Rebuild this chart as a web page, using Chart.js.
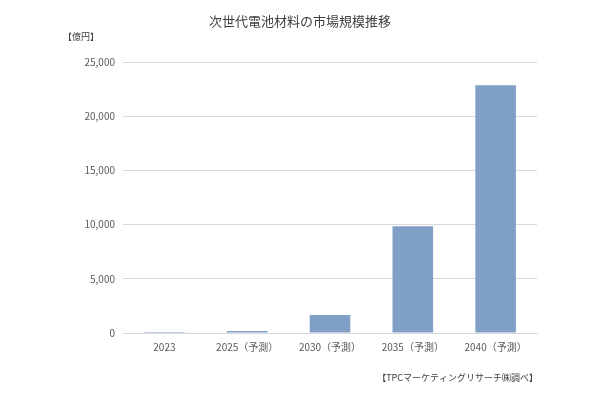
<!DOCTYPE html>
<html lang="ja">
<head>
<meta charset="UTF-8">
<title>次世代電池材料の市場規模推移</title>
<script src="https://cdn.jsdelivr.net/npm/chart.js@4.4.1/dist/chart.umd.js"></script>
<style>
  html, body { margin: 0; padding: 0; background: #fff; }
  #wrap { width: 600px; height: 394px; position: relative; }
</style>
</head>
<body>
<div id="wrap"><canvas id="chart"></canvas></div>
<script>
// data (億円)
const years = ['2023', '2025（予測）', '2030（予測）', '2035（予測）', '2040（予測）'];
const marketSize = [10, 180, 1650, 9850, 22850];
const yTicks = [0, 5000, 10000, 15000, 20000, 25000];

const FONT = '"Noto Sans CJK JP", "Noto Sans", sans-serif';

// title, unit label and source note
const textPlugin = {
    id: 'texts',
    afterDraw(chart) {
        const c = chart.ctx;
        c.save();
        c.fillStyle = '#404040';
        c.font = '13px ' + FONT;
        c.textAlign = 'center';
        c.textBaseline = 'middle';
        c.fillText('次世代電池材料の市場規模推移', 300, 21);

        c.font = '9px ' + FONT;
        c.textAlign = 'left';
        c.fillText('【億円】', 63, 37);

        c.textAlign = 'right';
        c.fillText('【TPCマーケティングリサーチ㈱調べ】', 538, 378);
        c.restore();
    }
};

new Chart(document.getElementById('chart'), {
    type: 'bar',
    data: {
        labels: years,
        datasets: [{
            data: marketSize,
            backgroundColor: '#7F9FC6',
            categoryPercentage: 1,
            barPercentage: 0.49
        }]
    },
    options: {
        responsive: true,
        maintainAspectRatio: false,
        animation: false,
        layout: { padding: { top: 62, right: 63, bottom: 0, left: 0 } },
        plugins: {
            legend: { display: false },
            tooltip: { enabled: false }
        },
        scales: {
            x: {
                grid: { display: false },
                border: { color: '#D9D9D9' },
                ticks: { color: '#595959', font: { family: FONT, size: 10 }, padding: 0, maxRotation: 0 },
                afterFit(s) { s.height = 61; }
            },
            y: {
                min: 0,
                max: 25000,
                afterBuildTicks(s) { s.ticks = yTicks.map(v => ({ value: v })); },
                grid: { color: '#D9D9D9', drawTicks: false },
                border: { display: false },
                ticks: {
                    color: '#595959',
                    font: { family: FONT, size: 10 },
                    padding: 8,
                    callback: v => v.toLocaleString('en-US')
                },
                afterFit(s) { s.width = 123; }
            }
        }
    },
    plugins: [textPlugin]
});
</script>
</body>
</html>
